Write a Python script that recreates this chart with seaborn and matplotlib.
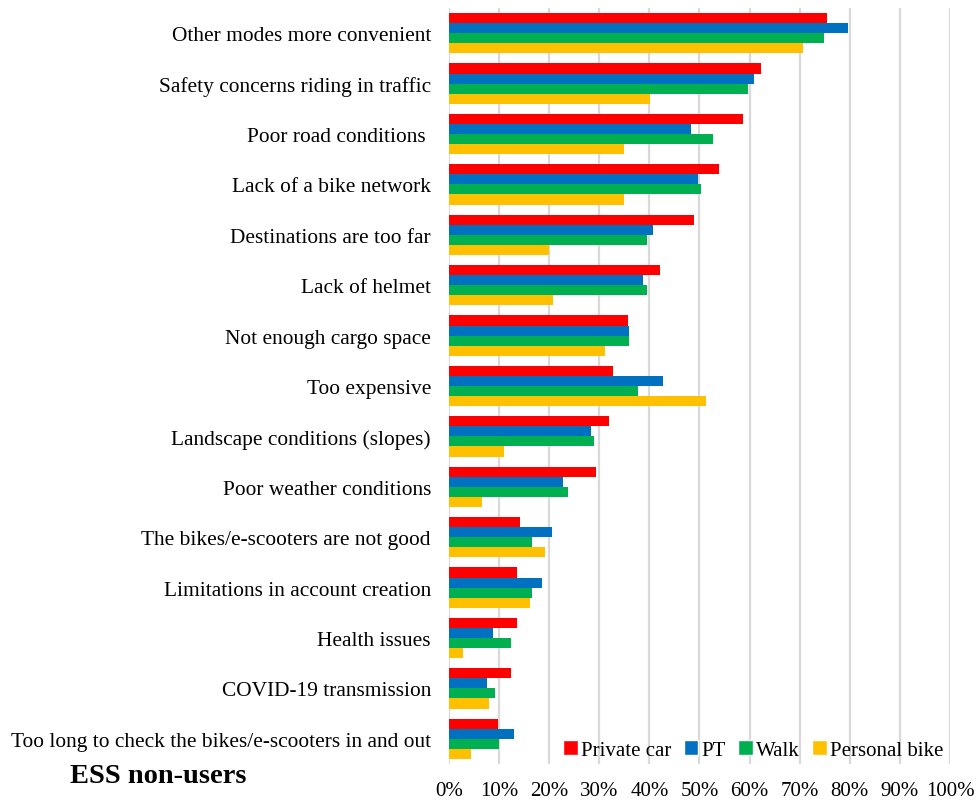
import matplotlib
matplotlib.use("Agg")
import matplotlib.pyplot as plt
from matplotlib.ticker import PercentFormatter
from matplotlib.patches import Patch
import pandas as pd
import seaborn as sns

# Barriers reported by ESS non-users, share per main mode
reasons = [
    "Other modes more convenient",
    "Safety concerns riding in traffic",
    "Poor road conditions ",
    "Lack of a bike network",
    "Destinations are too far",
    "Lack of helmet",
    "Not enough cargo space",
    "Too expensive",
    "Landscape conditions (slopes)",
    "Poor weather conditions",
    "The bikes/e-scooters are not good",
    "Limitations in account creation",
    "Health issues",
    "COVID-19 transmission",
    "Too long to check the bikes/e-scooters in and out",
]
modes = ["Private car", "PT", "Walk", "Personal bike"]

private_car = [75.4, 62.2, 58.7, 53.9, 49.0, 42.1, 35.7, 32.7, 32.0, 29.3, 14.2, 13.5, 13.5, 12.3, 9.7]
pt = [79.6, 60.8, 48.3, 49.8, 40.7, 38.7, 35.9, 42.8, 28.3, 22.7, 20.6, 18.6, 8.8, 7.5, 13.0]
walk = [74.9, 59.7, 52.6, 50.2, 39.5, 39.5, 35.9, 37.7, 28.9, 23.7, 16.5, 16.5, 12.4, 9.1, 9.9]
personal_bike = [70.6, 40.1, 34.9, 34.9, 20.0, 20.7, 31.1, 51.2, 11.0, 6.5, 19.2, 16.2, 2.8, 8.0, 4.3]

colors = ["#FF0000", "#0070C0", "#00B050", "#FFC000"]

# long format for seaborn
rows = []
for mode, vals in zip(modes, [private_car, pt, walk, personal_bike]):
    for reason, v in zip(reasons, vals):
        rows.append({"reason": reason, "mode": mode, "share": v / 100})
df = pd.DataFrame(rows)

sns.set_style("white")
plt.rcParams["font.family"] = ["Liberation Serif", "DejaVu Serif"]
plt.rcParams["text.color"] = "black"
plt.rcParams["xtick.color"] = "black"
plt.rcParams["ytick.color"] = "black"

fig = plt.figure(figsize=(9.79, 8.03), dpi=100)
ax = fig.add_axes([449 / 979, 38 / 803, 501 / 979, 756 / 803])

sns.barplot(data=df, y="reason", x="share", hue="mode", order=reasons,
            hue_order=modes, palette=colors, orient="h", width=0.8,
            saturation=1, linewidth=0, ax=ax, legend=False)

ax.set_xlim(0, 1.0)
ax.set_xticks([i / 10 for i in range(11)])
ax.xaxis.set_major_formatter(PercentFormatter(1.0, decimals=0))
ax.grid(axis="x", color="#D9D9D9", linewidth=1.6)
ax.set_axisbelow(True)
for s in ax.spines.values():
    s.set_visible(False)
ax.set_xlabel("")
ax.set_ylabel("")
ax.tick_params(axis="y", length=0, pad=13, labelsize=15.4)
ax.tick_params(axis="x", length=0, pad=12, labelsize=15)

handles = [Patch(facecolor=c, label=m) for c, m in zip(colors, modes)]
ax.legend(handles=handles, loc="lower right", bbox_to_anchor=(0.995, 0.0),
          ncol=4, frameon=False, fontsize=15, handlelength=0.7,
          handleheight=0.7, handletextpad=0.15, columnspacing=0.6,
          borderpad=0.0, borderaxespad=0.2)

fig.text(70 / 979, 1 - 777 / 803, "ESS non-users", fontsize=20.5,
         fontweight="bold", va="center", ha="left")

fig.savefig("out.png", dpi=100)
